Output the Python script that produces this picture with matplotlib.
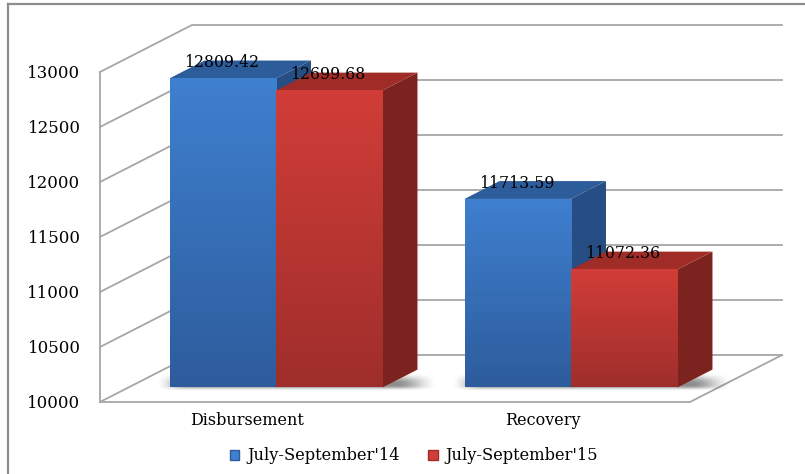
import numpy as np
import matplotlib
matplotlib.use("Agg")
import matplotlib.pyplot as plt
from matplotlib.patches import Polygon
from matplotlib.colors import LinearSegmentedColormap
from matplotlib.lines import Line2D

# ---- data ----
categories = ["Disbursement", "Recovery"]
series_names = ["July-September'14", "July-September'15"]
values_14 = [12809.42, 11713.59]
values_15 = [12699.68, 11072.36]
y_ticks = [10000, 10500, 11000, 11500, 12000, 12500, 13000]

# ---- style ----
FONT = "DejaVu Serif"
GRID = "#a6a6a6"
front_cols = {0: ("#3f80d0", "#2d5c9c"), 1: ("#d13d38", "#9f2e2b")}
top_cols = {0: "#2c5c99", 1: "#a02c28"}
side_cols = {0: "#264d84", 1: "#7c2320"}

W, H = 805, 474
fig = plt.figure(figsize=(W / 100, H / 100), dpi=100)
fig.patch.set_facecolor("white")

# front plane of the plot box in pixels
x0_px, x1_px, yb_px, yt_px = 100, 690, 402, 72
ax = fig.add_axes([x0_px / W, (H - yb_px) / H, (x1_px - x0_px) / W, (yb_px - yt_px) / H])
ymin, ymax = y_ticks[0], y_ticks[-1]
ax.set_xlim(0, len(categories))
ax.set_ylim(ymin, ymax)
for s in ax.spines.values():
    s.set_visible(False)
ax.patch.set_visible(False)

# depth vector of the box, expressed in data units
px_per_x = (x1_px - x0_px) / len(categories)
px_per_y = (yb_px - yt_px) / (ymax - ymin)
DX = 92 / px_per_x
DY = 47 / px_per_y


def proj(x, y, f):
    return x + f * DX, y + f * DY


# walls and floor
for t in y_ticks:
    xa, ya = proj(0, t, 0)
    xb, yb = proj(0, t, 1)
    xc, yc = proj(len(categories), t, 1)
    ax.plot([xa, xb, xc], [ya, yb, yc], color=GRID, lw=1.3, clip_on=False, zorder=1)
ax.plot([0, 0], [ymin, ymax], color=GRID, lw=1.3, clip_on=False, zorder=1)
fx, fy = proj(len(categories), ymin, 1)
ax.plot([0, len(categories), fx], [ymin, ymin, fy], color=GRID, lw=1.3, clip_on=False, zorder=1)


def smoothstep(a):
    a = np.clip(a, 0, 1)
    return a * a * (3 - 2 * a)


# bars (front face at depth f0, back face at depth f1)
f0, f1 = 0.31, 0.69
d = f1 - f0
bw = 0.361
series = [values_14, values_15]
for ci, cat in enumerate(categories):
    cx, base = proj(ci + 0.5, ymin, f0)

    # soft floor shadow under the bar pair
    sx0, sx1 = cx - bw - 0.05, cx + bw + d * DX + 0.07
    sy0, sy1 = base - 4 / px_per_y, base + d * DY * 0.8
    gx = np.linspace(0, 1, 200)
    gy = np.linspace(0, 1, 60)
    ax_x = smoothstep(gx / 0.12) * smoothstep((1 - gx) / 0.15)
    ax_y = smoothstep(gy / 0.3) * smoothstep((1 - gy) / 0.6)
    alpha = 0.45 * np.outer(ax_y, ax_x)
    rgba = np.zeros((60, 200, 4))
    rgba[..., 3] = alpha
    ax.imshow(rgba, origin="lower", aspect="auto", extent=[sx0, sx1, sy0, sy1],
              zorder=2, clip_on=False, interpolation="bilinear")

    for si, vals in enumerate(series):
        v = vals[ci]
        left = cx - bw + si * bw
        top = v + f0 * DY
        # front face with vertical gradient
        bar = ax.bar(left, top - base, width=bw, bottom=base, align="edge",
                     color=front_cols[si][0], edgecolor="none", zorder=4 + si, clip_on=False)[0]
        cmap = LinearSegmentedColormap.from_list("g", [front_cols[si][1], front_cols[si][0]])
        grad = np.linspace(0, 1, 256).reshape(-1, 1)
        im = ax.imshow(grad, cmap=cmap, origin="lower", aspect="auto",
                       extent=[left, left + bw, base, top], zorder=4.5 + si, clip_on=True)
        im.set_clip_path(bar)
        # side face
        side = Polygon([(left + bw, base), (left + bw, top),
                        (left + bw + d * DX, top + d * DY), (left + bw + d * DX, base + d * DY)],
                       closed=True, fc=side_cols[si], ec="none", zorder=3 + si, clip_on=False)
        ax.add_patch(side)
        # top face
        topf = Polygon([(left, top), (left + bw, top),
                        (left + bw + d * DX, top + d * DY), (left + d * DX, top + d * DY)],
                       closed=True, fc=top_cols[si], ec="none", zorder=3 + si, clip_on=False)
        ax.add_patch(topf)
        # value label
        lx = left + bw / 2 - 0.004
        ly = v + 0.645 * DY
        ax.text(lx, ly, f"{v:.2f}", ha="center", va="center", fontsize=11.3,
                family=FONT, color="black", zorder=10, clip_on=False)

ax.set_xlim(0, len(categories))
ax.set_ylim(ymin, ymax)

# axis labels
ax.set_yticks(y_ticks)
ax.set_yticklabels([str(t) for t in y_ticks], family=FONT, fontsize=12)
ax.set_xticks([i + 0.5 for i in range(len(categories))])
ax.set_xticklabels(categories, family=FONT, fontsize=11.5)
ax.tick_params(axis="y", length=0, pad=14)
ax.tick_params(axis="x", length=0, pad=7)

# legend
handles = [plt.Rectangle((0, 0), 1, 1, fc=front_cols[i][0], ec=front_cols[i][1]) for i in range(2)]
fig.legend(handles, series_names, loc="center", bbox_to_anchor=(414 / W, 1 - 456 / H),
           ncol=2, frameon=False, prop={"family": FONT, "size": 11.7},
           handlelength=0.6, handleheight=0.6, handletextpad=0.5, columnspacing=1.7)

# outer frame (top and left edges)
fig.add_artist(Line2D([8 / W, 8 / W], [0, 1 - 4 / H], color="#8c8c8c", lw=1.6))
fig.add_artist(Line2D([8 / W, 1], [1 - 4 / H, 1 - 4 / H], color="#8c8c8c", lw=1.6))

fig.savefig("out.png", dpi=100, facecolor="white")
